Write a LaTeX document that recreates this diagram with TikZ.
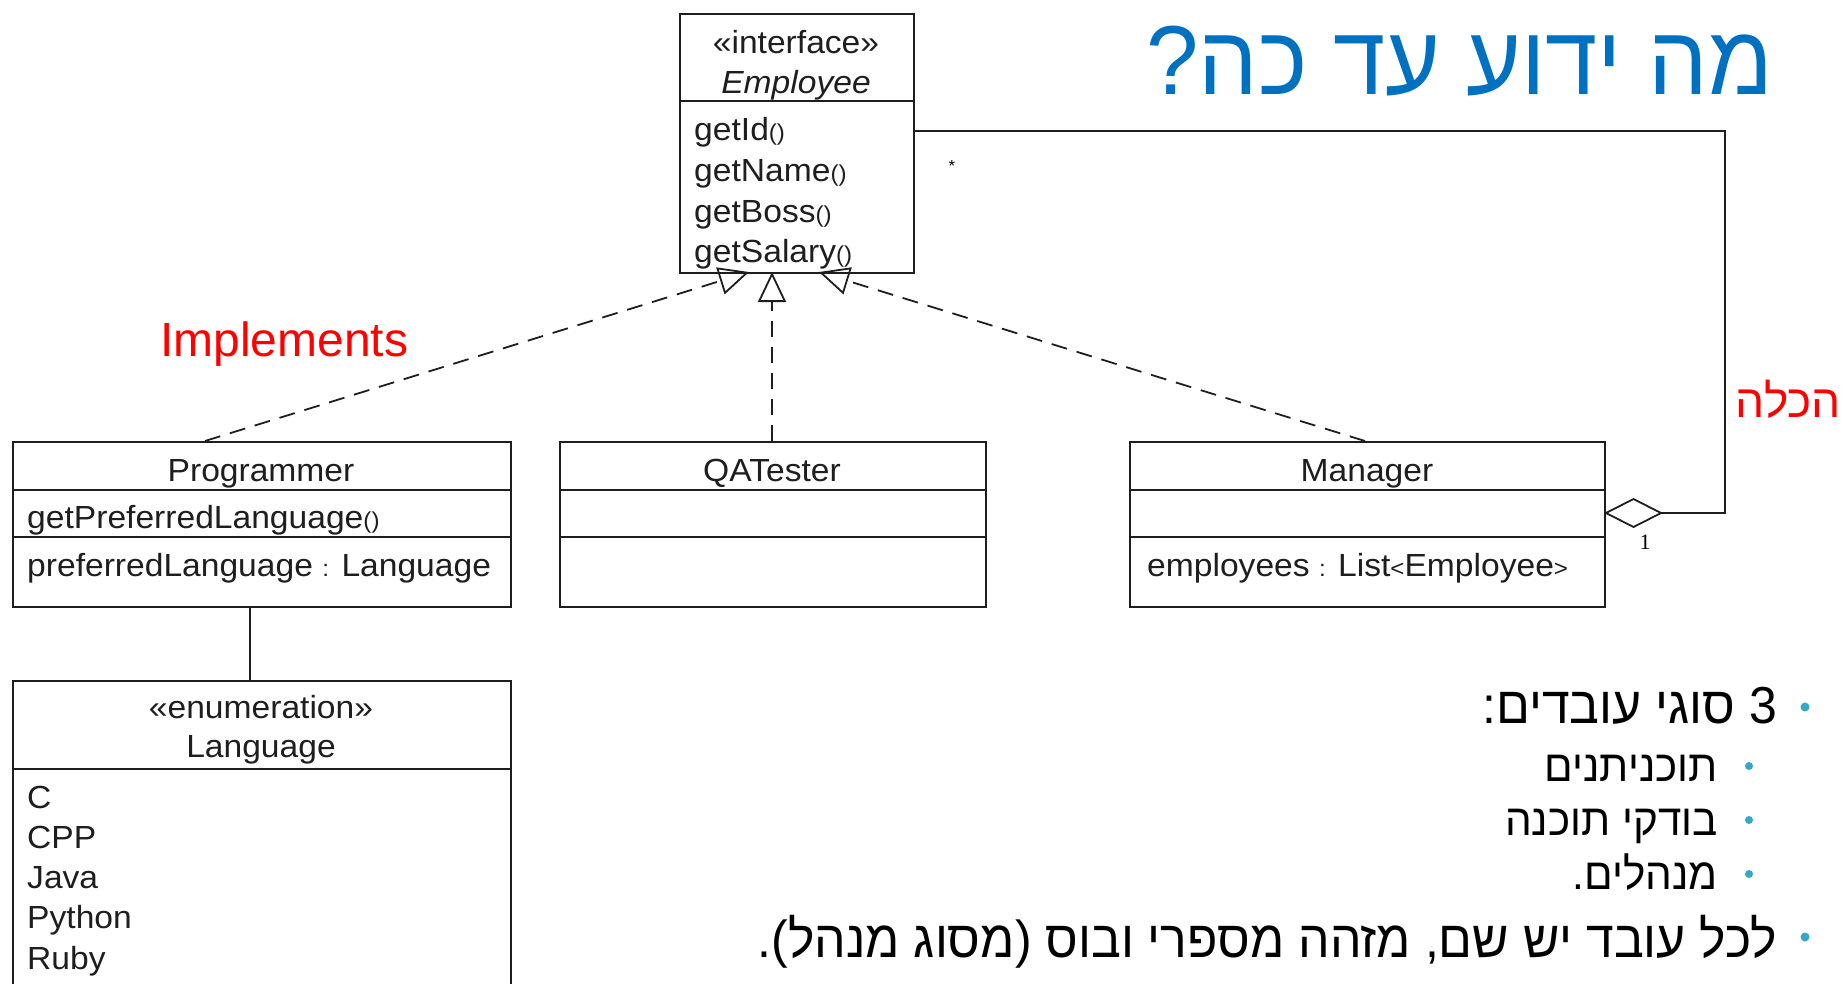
\documentclass[tikz,border=0pt]{standalone}
\usepackage{fontspec}
\setmainfont{Liberation Sans}
\newfontfamily\hebfont[Script=Hebrew]{Liberation Sans}
\newfontfamily\hebnarrow[Script=Hebrew,FakeStretch=0.96]{Liberation Sans}
\newfontfamily\umlfont[FakeStretch=1.05]{Liberation Sans}
\newfontfamily\seriffont{Liberation Serif}
\TeXXeTstate=1
\usetikzlibrary{arrows.meta}
\definecolor{titleblue}{RGB}{0,112,192}
\definecolor{bulletcyan}{RGB}{52,168,196}
\definecolor{umlline}{RGB}{30,30,30}
\newcommand{\sm}[1]{{\fontsize{23}{23}\selectfont #1}}
\tikzset{
  umlbox/.style={draw=umlline, line width=1.8pt, inner sep=0pt, anchor=north west},
  umltext/.style={inner sep=0pt, text=umlline, font=\umlfont\fontsize{32}{38}\selectfont},
  impl/.style={draw=umlline, line width=1.8pt, dash pattern=on 16pt off 10pt,
     -{Triangle[open,length=30pt,width=28pt]}},
  assoc/.style={draw=umlline, line width=1.8pt},
  hebtext/.style={inner sep=0pt, anchor=base east},
  bulletdot/.style={circle, fill=bulletcyan, inner sep=0pt, minimum size=9pt},
  subdot/.style={circle, fill=bulletcyan, inner sep=0pt, minimum size=8pt},
}
\begin{document}
\begin{tikzpicture}[x=1pt,y=-1pt]
\useasboundingbox (0,0) rectangle (1841,983);

% ---------- Employee interface ----------
\node[umlbox, minimum width=234pt, minimum height=259pt] (emp) at (679,13) {};
\draw[line width=1.8pt, umlline] (679,101) -- (913,101);
\node[umltext, anchor=base] (empst) at (796,53) {\guillemotleft interface\guillemotright};
\node[umltext, anchor=base] (empname) at (796,93) {\itshape Employee};
\node[umltext, anchor=base west] (m1) at (694,140) {getId\sm{()}};
\node[umltext, anchor=base west] (m2) at (694,181) {getName\sm{()}};
\node[umltext, anchor=base west] (m3) at (694,222) {getBoss\sm{()}};
\node[umltext, anchor=base west] (m4) at (694,262) {getSalary\sm{()}};

% ---------- Programmer ----------
\node[umlbox, minimum width=498pt, minimum height=165pt] (prog) at (12,441) {};
\draw[line width=1.8pt, umlline] (12,490) -- (510,490) (12,537) -- (510,537);
\node[umltext, anchor=base] (progname) at (261,481) {Programmer};
\node[umltext, anchor=base west] (progop) at (27,528) {getPreferredLanguage\sm{()}};
\node[umltext, anchor=base west] (progat) at (27,576) {preferredLanguage \sm{:} Language};

% ---------- QATester ----------
\node[umlbox, minimum width=426pt, minimum height=165pt] (qa) at (559,441) {};
\draw[line width=1.8pt, umlline] (559,490) -- (985,490) (559,537) -- (985,537);
\node[umltext, anchor=base] (qaname) at (772,481) {QATester};

% ---------- Manager ----------
\node[umlbox, minimum width=475pt, minimum height=165pt] (mgr) at (1129,441) {};
\draw[line width=1.8pt, umlline] (1129,490) -- (1604,490) (1129,537) -- (1604,537);
\node[umltext, anchor=base] (mgrname) at (1367,481) {Manager};
\node[umltext, anchor=base west] (mgrat) at (1147,576) {employees \sm{:} List\sm{<}Employee\sm{>}};

% ---------- Language enumeration ----------
\node[umlbox, minimum width=498pt, minimum height=330pt] (lang) at (12,680) {};
\draw[line width=1.8pt, umlline] (12,769) -- (510,769);
\node[umltext, anchor=base] (langst) at (261,718) {\guillemotleft enumeration\guillemotright};
\node[umltext, anchor=base] (langname) at (261,757) {Language};
\node[umltext, anchor=base west] (l1) at (27,808) {C};
\node[umltext, anchor=base west] (l2) at (27,848) {CPP};
\node[umltext, anchor=base west] (l3) at (27,888) {Java};
\node[umltext, anchor=base west] (l4) at (27,928) {Python};
\node[umltext, anchor=base west] (l5) at (27,969) {Ruby};

% ---------- connectors ----------
\coordinate (tipP) at (749,272);
\coordinate (tipQ) at (772,272);
\coordinate (tipM) at (819,272);
\coordinate (srcP) at (205,441);
\coordinate (srcQ) at (772,441);
\coordinate (srcM) at (1365,441);
\draw[impl] (srcP) -- (tipP);
\draw[impl] (srcQ) -- (tipQ);
\draw[impl] (srcM) -- (tipM);

\coordinate (langtop) at (250,680);
\coordinate (progbot) at (250,606);
\draw[assoc] (progbot) -- (langtop);

\coordinate (empR) at (913,131);
\coordinate (corner) at (1725,131);
\coordinate (mgrR) at (1604,513);
\draw[assoc, {Diamond[open,length=59pt,width=30pt]}-] (mgrR) -- (1725,513) -- (corner) -- (empR);
\node[inner sep=0pt, font=\umlfont\fontsize{16}{16}\selectfont] (star) at (952,166) {*};
\node[inner sep=0pt, font=\seriffont\fontsize{22}{22}\selectfont] (one) at (1645,542) {1};

% ---------- red labels ----------
\node[inner sep=0pt, anchor=base west, text=red, font=\hebfont\fontsize{48}{48}\selectfont] (implab) at (160,356) {Implements};
\node[inner sep=0pt, anchor=base east, text=red, font=\hebfont\fontsize{46}{46}\selectfont] (contlab) at (1841,417) {\beginR הכלה\endR};

% ---------- title ----------
\node[hebtext, text=titleblue, font=\hebnarrow\fontsize{98}{98}\selectfont] (title) at (1773,94) {\beginR מה ידוע עד כה?\endR};

% ---------- bullets ----------
\node[bulletdot] (d1) at (1805,707) {};
\node[hebtext, font=\hebnarrow\fontsize{52}{52}\selectfont] (b1) at (1777,723) {\beginR 3 סוגי עובדים:\endR};
\node[subdot] (d2) at (1749,766) {};
\node[hebtext, font=\hebnarrow\fontsize{44}{44}\selectfont] (b2) at (1718,781) {\beginR תוכניתנים\endR};
\node[subdot] (d3) at (1749,820) {};
\node[hebtext, font=\hebnarrow\fontsize{44}{44}\selectfont] (b3) at (1718,835) {\beginR בודקי תוכנה\endR};
\node[subdot] (d4) at (1749,874) {};
\node[hebtext, font=\hebnarrow\fontsize{44}{44}\selectfont] (b4) at (1718,889) {\beginR מנהלים.\endR};
\node[bulletdot] (d5) at (1805,937) {};
\node[hebtext, font=\hebnarrow\fontsize{52}{52}\selectfont] (b5) at (1777,957) {\beginR לכל עובד יש שם, מזהה מספרי ובוס (מסוג מנהל).\endR};
\end{tikzpicture}
\end{document}
